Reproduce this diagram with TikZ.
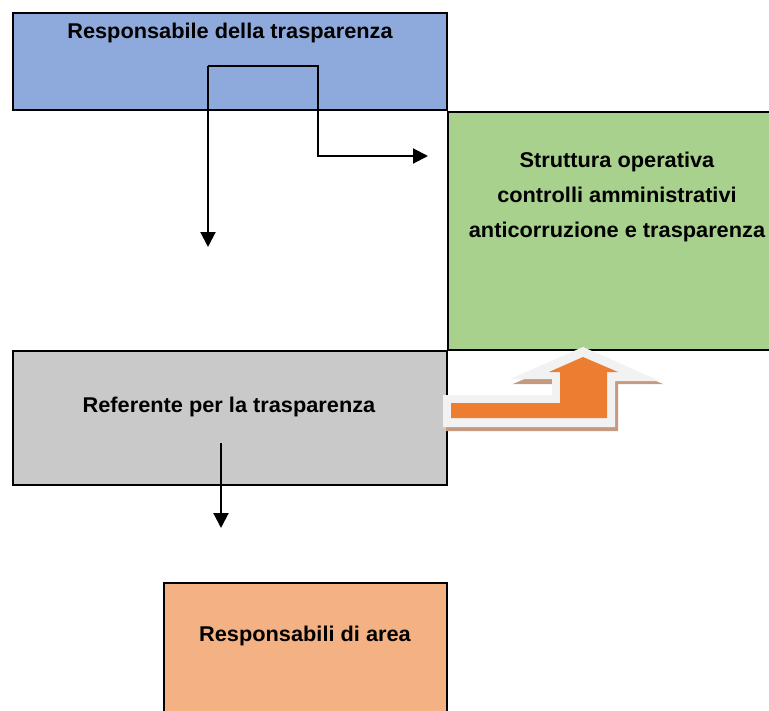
\documentclass[tikz,border=0pt]{standalone}
\usepackage{fontspec}
\setmainfont{Liberation Sans}[FakeStretch=1.02]
\usetikzlibrary{arrows.meta}
\definecolor{respblue}{HTML}{8EA9DB}
\definecolor{strutgreen}{HTML}{A9D18E}
\definecolor{refgray}{HTML}{C9C9C9}
\definecolor{areaorange}{HTML}{F4B183}
\definecolor{bentorange}{HTML}{ED7D31}
\definecolor{bentglow}{HTML}{F2F2F2}
\definecolor{bentshadow}{HTML}{C49A80}

\begin{document}
\begin{tikzpicture}[x=0.75pt,y=-0.75pt,
		box/.style={draw=black,line width=1.5pt},
		lbl/.style={anchor=base,inner sep=0pt,align=center,
			font=\bfseries\fontsize{16}{26.25}\selectfont},
		conn/.style={line width=1.5pt,-{Triangle[length=11.25pt,width=11.25pt]}}]
		\useasboundingbox (0,0) rectangle (769,711);
		\clip (0,0) rectangle (769,711);
		% boxes
		\draw[box,fill=respblue] (13,13) rectangle (447,110);
		\draw[box,fill=strutgreen] (448,112) rectangle (790,350);
		\draw[box,fill=refgray] (13,351) rectangle (447,485);
		\draw[box,fill=areaorange] (164,583) rectangle (447,730);
		%
		\node[lbl] (resp) at (230,38) {Responsabile della trasparenza};
		\node[lbl,anchor=north] (strut) at (617,152) {Struttura operativa\\controlli amministrativi\\anticorruzione e trasparenza};
		\node[lbl] (ref) at (229,412) {Referente per la trasparenza};
		\node[lbl] (area) at (305,641) {Responsabili di area};
		%
		\coordinate (r1) at (208,66);
		\coordinate (r2) at (318,66);
		\coordinate (r3) at (318,156);
		\coordinate (toref) at (208,247);
		\coordinate (tostrut) at (428,156);
		\coordinate (f1) at (221,443);
		\coordinate (toarea) at (221,528);
		%
		\draw[conn] (r1) -- (toref);
		\draw[conn] (r1) -- (r2) -- (r3) -- (tostrut);
		\draw[conn] (f1) -- (toarea);
		% bent arrow ref -> strut
		\fill[bentshadow] (446,400) -- (555,400) -- (555,384) -- (513,384) -- (586,352) -- (663,384) -- (618,384) -- (618,431) -- (446,431) -- cycle;
		\fill[bentglow] (443,395) -- (552,395) -- (552,379) -- (510,379) -- (583,347) -- (660,381) -- (615,381) -- (615,427) -- (443,427) -- cycle;
		\fill[bentorange] (451,403) -- (560,403) -- (560,372) -- (549,372) -- (583,357) -- (618,372) -- (607,372) -- (607,418) -- (451,418) -- cycle;
	\end{tikzpicture}
\end{document}
